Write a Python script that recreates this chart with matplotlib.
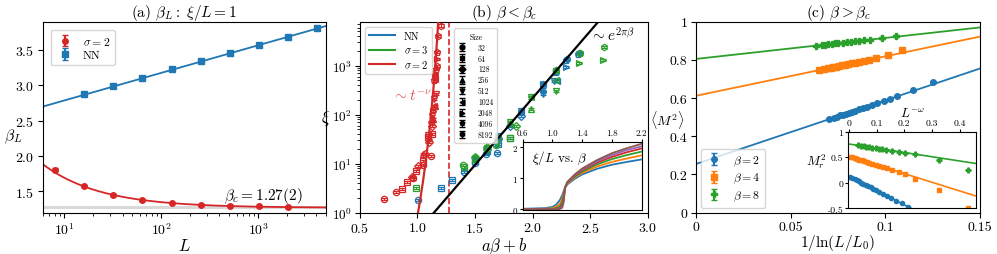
import numpy as np
import matplotlib
matplotlib.use("Agg")
import matplotlib.pyplot as plt
from matplotlib.ticker import FuncFormatter

plt.rcParams["font.family"] = "cmr10"
plt.rcParams["mathtext.fontset"] = "cm"
plt.rcParams["axes.formatter.use_mathtext"] = True
plt.rcParams["axes.unicode_minus"] = False
plt.rcParams["font.size"] = 10
plt.rcParams["xtick.labelsize"] = 10
plt.rcParams["ytick.labelsize"] = 10
plt.rcParams["xtick.major.pad"] = 2.5
plt.rcParams["ytick.major.pad"] = 2.5

BLUE, ORANGE, GREEN, RED = "#1f77b4", "#ff7f0e", "#2ca02c", "#d62728"

# ---- (a) beta_L at xi/L = 1
L_nn = [16, 32, 64, 128, 256, 512, 1024, 2048, 4096]
beta_nn = [2.873, 2.99, 3.108, 3.225, 3.34, 3.458, 3.57, 3.684, 3.805]
err_nn = [0.02, 0.02, 0.02, 0.02, 0.02, 0.02, 0.02, 0.02, 0.02]
L_s2 = [8, 16, 32, 64, 128, 256, 512, 1024, 2048]
beta_s2 = [1.81, 1.58, 1.453, 1.378, 1.34, 1.307, 1.298, 1.29, 1.274]
err_s2 = [0.02, 0.015, 0.012, 0.01, 0.01, 0.01, 0.01, 0.01, 0.01]
nn_fit = [2.396, 0.390]            # intercept, slope per decade
s2_fit = [1.27, 2.28, 0.73]        # beta_c, amplitude, exponent
beta_c_band = [1.25, 1.29]

# ---- (b) xi vs a*beta+b
sizes = [32, 64, 128, 256, 512, 1024, 2048, 4096, 8192]
size_markers = ["o", "s", "D", "^", "v", "<", ">", "p", "h"]
s2_x = [[0.71, 0.81, 0.96, 1.05, 1.117], [0.862, 0.911, 0.99, 1.05, 1.093, 1.13],
        [0.954, 1.007, 1.067, 1.10, 1.123], [1.05, 1.10, 1.137, 1.15],
        [1.093, 1.13, 1.146, 1.158], [1.117, 1.143, 1.152], [1.137, 1.152, 1.167],
        [1.146, 1.158, 1.167], [1.152, 1.167, 1.181, 1.204]]
s2_y = [[1.9, 2.6, 5.0, 9.5, 14.6], [3.1, 4.2, 7.2, 11.5, 35, 40],
        [5.3, 9.1, 15.8, 28, 60], [16, 33, 80, 150],
        [38, 93, 210, 270], [70, 153, 535], [120, 680, 1370],
        [500, 855, 1870], [640, 1000, 4100, 6600]]
nn_x = [[1.007, 1.40, 1.50, 1.595, 1.69], [1.204, 1.30, 1.50, 1.60, 1.70, 1.80],
        [1.60, 1.70, 1.80, 1.90], [1.70, 1.90, 2.09], [1.70, 1.90, 2.087, 2.19],
        [1.90, 2.09, 2.21], [2.09, 2.20, 2.29], [2.20, 2.29, 2.397], [2.09, 2.20, 2.30, 2.40]]
nn_y = [[1.8, 6.9, 10.5, 15.5, 16.5], [3.2, 4.6, 11.5, 18, 25, 33],
        [20, 32, 60, 95], [35, 118, 330], [37, 120, 265, 480],
        [120, 425, 490], [420, 740, 930], [760, 1320, 1750], [425, 770, 1350, 1850]]
s3_x = [[1.398, 1.50, 1.60, 1.68], [0.99, 1.40, 1.50, 1.60, 1.80],
        [1.50, 1.60, 1.70, 1.86], [1.60, 1.80, 1.99], [1.80, 1.99, 2.20],
        [1.99, 2.20], [2.20, 2.405, 2.613], [2.20, 2.41], [2.20, 2.41, 2.62]]
s3_y = [[9.4, 13, 20, 24], [3.2, 8.5, 12.5, 21, 33],
        [14, 22, 34, 60], [22, 68, 130], [70, 225, 300],
        [225, 500], [790, 1130, 1330], [800, 1820], [810, 1850, 2450]]
kt_x0 = 1.143                      # xi ~ exp(2 pi (x - x0))
pow_fit = [1.27, 8.3, 1.63e-5]     # x_c, nu, amplitude

# inset of (b): xi/L vs beta
beta_in = [0.6, 0.9, 1.0, 1.05, 1.1, 1.13, 1.15, 1.17, 1.2, 1.3, 1.4, 1.6, 1.8, 2.0, 2.2]
xiL_in = [
    [0.02, 0.04, 0.08, 0.15, 0.30, 0.45, 0.58, 0.70, 0.80, 0.98, 1.12, 1.30, 1.43, 1.52, 1.60],
    [0.01, 0.02, 0.04, 0.08, 0.18, 0.35, 0.52, 0.70, 0.82, 1.02, 1.17, 1.37, 1.52, 1.63, 1.73],
    [0.005, 0.01, 0.02, 0.04, 0.10, 0.25, 0.45, 0.70, 0.84, 1.05, 1.21, 1.44, 1.61, 1.74, 1.85],
    [0.003, 0.005, 0.01, 0.02, 0.05, 0.15, 0.38, 0.70, 0.86, 1.08, 1.25, 1.50, 1.68, 1.83, 1.95],
    [0.002, 0.003, 0.005, 0.01, 0.03, 0.09, 0.30, 0.70, 0.87, 1.10, 1.28, 1.54, 1.74, 1.90, 2.02],
    [0.001, 0.002, 0.003, 0.005, 0.015, 0.05, 0.22, 0.70, 0.88, 1.12, 1.31, 1.58, 1.80, 1.96, 2.10],
]

# ---- (c) <M^2> vs 1/ln(L/L0)
c_x_b2 = [0.0704, 0.0729, 0.0743, 0.0761, 0.0775, 0.0790, 0.0806, 0.0822, 0.0840, 0.0859,
          0.0880, 0.0901, 0.0928, 0.0958, 0.0993, 0.1025, 0.1063, 0.1148, 0.125]
c_y_b2 = [0.490, 0.498, 0.503, 0.509, 0.513, 0.518, 0.524, 0.529, 0.535, 0.541,
          0.548, 0.555, 0.564, 0.574, 0.586, 0.597, 0.609, 0.640, 0.685]
c_x_b4 = [0.0651, 0.0678, 0.0695, 0.0711, 0.0725, 0.0739, 0.0755, 0.0769, 0.0787, 0.0804,
          0.0822, 0.0840, 0.0861, 0.0887, 0.0914, 0.0949, 0.1012, 0.109]
c_y_b4 = [0.747, 0.752, 0.756, 0.759, 0.762, 0.765, 0.768, 0.771, 0.775, 0.778,
          0.782, 0.786, 0.790, 0.795, 0.801, 0.808, 0.824, 0.850]
c_x_b8 = [0.0634, 0.0667, 0.0683, 0.0699, 0.0717, 0.0734, 0.0752, 0.0775, 0.0796, 0.0819,
          0.0840, 0.0863, 0.0887, 0.0919, 0.098, 0.1055]
c_y_b8 = [0.875, 0.878, 0.880, 0.882, 0.884, 0.886, 0.888, 0.890, 0.893, 0.895,
          0.897, 0.900, 0.903, 0.906, 0.914, 0.925]
c_fit = {2: [0.255, 3.333], 4: [0.612, 2.067], 8: [0.805, 1.10]}

# inset of (c): M_r^2 vs L^-omega
ci_x_b2 = [0.004, 0.012, 0.020, 0.028, 0.036, 0.044, 0.052, 0.060, 0.069, 0.078,
           0.088, 0.098, 0.110, 0.122, 0.136, 0.152, 0.170, 0.190, 0.212]
ci_y_b2 = [0.115, 0.093, 0.070, 0.048, 0.026, 0.003, -0.019, -0.041, -0.067, -0.092,
           -0.120, -0.147, -0.181, -0.214, -0.253, -0.298, -0.348, -0.404, -0.465]
ci_x_b4 = [0.002, 0.011, 0.020, 0.029, 0.037, 0.046, 0.054, 0.064, 0.073, 0.084,
           0.096, 0.108, 0.122, 0.138, 0.156, 0.180, 0.204, 0.240, 0.324, 0.430]
ci_y_b4 = [0.514, 0.498, 0.483, 0.468, 0.454, 0.439, 0.426, 0.409, 0.394, 0.375,
           0.355, 0.334, 0.311, 0.284, 0.253, 0.213, 0.172, 0.08, -0.135, -0.494]
ci_x_b8 = [0.032, 0.044, 0.054, 0.062, 0.072, 0.084, 0.096, 0.108, 0.120, 0.134,
           0.155, 0.180, 0.203, 0.240, 0.324, 0.430]
ci_y_b8 = [0.732, 0.722, 0.714, 0.708, 0.699, 0.689, 0.679, 0.669, 0.659, 0.648,
           0.630, 0.610, 0.591, 0.555, 0.445, 0.256]
ci_fit = {2: [0.126, -2.79], 4: [0.517, -1.69], 8: [0.759, -0.83]}

fig = plt.figure(figsize=(9.97, 2.55), dpi=100)
axa = fig.add_axes([0.0428, 0.162, 0.284, 0.749])
axb = fig.add_axes([0.361, 0.162, 0.2886, 0.749])
axc = fig.add_axes([0.698, 0.162, 0.285, 0.749])
gfmt = FuncFormatter(lambda v, p: f"{v:g}")

# ---------------- (a)
Lg = np.logspace(np.log10(6), np.log10(5000), 200)
axa.axhspan(*beta_c_band, color="0.85", lw=0)
axa.plot(Lg, s2_fit[0] + s2_fit[1] * Lg ** (-s2_fit[2]), color=RED, lw=1.3)
axa.plot(Lg, nn_fit[0] + nn_fit[1] * np.log10(Lg), color=BLUE, lw=1.3)
axa.errorbar(L_s2, beta_s2, yerr=err_s2, fmt="o", color=RED, ms=4, capsize=2, label=r"$\sigma=2$")
axa.errorbar(L_nn, beta_nn, yerr=err_nn, fmt="s", color=BLUE, ms=4, capsize=2, label="NN")
axa.set_xscale("log")
axa.set_xlim(6, 5000)
axa.set_ylim(1.2, 3.9)
axa.set_yticks([1.5, 2.0, 2.5, 3.0, 3.5])
axa.text(450, 1.39, r"$\beta_c=1.27(2)$", fontsize=11)
axa.set_xlabel(r"$L$", fontsize=12, labelpad=0)
axa.set_ylabel(r"$\beta_L$", fontsize=11.5, rotation=0, va="center")
axa.yaxis.set_label_coords(-0.105, 0.40)
axa.set_title(r"(a) $\beta_L:\ \xi/L=1$", fontsize=11, pad=3)
axa.legend(loc="upper left", fontsize=8.5, handlelength=1.5, borderaxespad=0.7,
           labelspacing=0.3)

# ---------------- (b)
def scatter_series(ax, xs, ys, color):
    for m, x, y in zip(size_markers, xs, ys):
        y = np.array(y, dtype=float)
        ax.errorbar(x, y, yerr=0.05 * y, fmt=m, color=color, mfc="none", ms=4.5,
                    mew=0.9, capsize=2, elinewidth=0.7, zorder=3)

scatter_series(axb, s2_x, s2_y, RED)
scatter_series(axb, nn_x, nn_y, BLUE)
scatter_series(axb, s3_x, s3_y, GREEN)
xg = np.linspace(0.5, 3.0, 400)
axb.plot(xg, np.exp(2 * np.pi * (xg - kt_x0)), color="k", lw=1.6, zorder=4)
xr = np.linspace(0.9, 1.25, 300)
axb.plot(xr, pow_fit[2] * (pow_fit[0] - xr) ** (-pow_fit[1]), color=RED, lw=1.6, zorder=4)
axb.axvline(pow_fit[0], color=RED, ls="--", lw=1.2)
axb.set_yscale("log")
axb.set_xlim(0.5, 3.0)
axb.set_ylim(1, 7900)
axb.set_xticks([0.5, 1.0, 1.5, 2.0, 2.5, 3.0])
axb.tick_params(axis="y", labelsize=9.5)
axb.text(0.78, 200, r"$\sim t^{-\nu}$", color=RED, fontsize=11, alpha=0.8)
axb.text(2.5, 3300, r"$\sim e^{2\pi\beta}$", color="k", fontsize=11)
axb.set_xlabel(r"$a\beta+b$", fontsize=12, labelpad=0)
axb.set_ylabel(r"$\xi$", fontsize=12, rotation=0, va="center")
axb.yaxis.set_label_coords(-0.12, 0.5)
axb.set_title(r"(b) $\beta<\beta_c$", fontsize=11, pad=3)
lines = [plt.Line2D([], [], color=c, lw=1.5) for c in (BLUE, GREEN, RED)]
leg1 = axb.legend(lines, ["NN", r"$\sigma=3$", r"$\sigma=2$"], loc="upper left",
                  fontsize=7.5, handlelength=2.5, borderaxespad=0.5, labelspacing=0.25)
axb.add_artist(leg1)
size_handles = [axb.errorbar([np.nan], [np.nan], yerr=[1], fmt=m, color="k", ms=3.5,
                             capsize=2, elinewidth=0.8) for m in size_markers]
axb.legend(size_handles, [str(s) for s in sizes], title="Size", loc="upper left",
           bbox_to_anchor=(0.315, 0.985), fontsize=5.5, title_fontsize=5.5,
           handlelength=1.0, labelspacing=0.33, handletextpad=1.6, borderpad=0.5)

ins_b = axb.inset_axes([0.566, 0.014, 0.413, 0.358])
for curve in xiL_in:
    ins_b.plot(beta_in, curve, lw=1.3)
ins_b.set_xlim(0.6, 2.2)
ins_b.set_ylim(-0.02, 2.17)
ins_b.xaxis.tick_top()
ins_b.set_xticks([0.6, 1.0, 1.4, 1.8, 2.2])
ins_b.xaxis.set_major_formatter(FuncFormatter(lambda v, p: f"{v:.1f}"))
ins_b.set_yticks([0, 1, 2])
ins_b.tick_params(labelsize=6.5, length=2, pad=1.5)
ins_b.text(0.08, 0.72, r"$\xi/L$ vs. $\beta$", transform=ins_b.transAxes, fontsize=9.5)

# ---------------- (c)
xc = np.linspace(0, 0.15, 50)
for beta, col in ((2, BLUE), (4, ORANGE), (8, GREEN)):
    a0, a1 = c_fit[beta]
    axc.plot(xc, a0 + a1 * xc, color=col, lw=1.3)
axc.errorbar(c_x_b2, c_y_b2, yerr=0.004, fmt="o", color=BLUE, ms=4, capsize=2, label=r"$\beta=$2")
axc.errorbar(c_x_b4, c_y_b4, yerr=0.004, fmt="s", color=ORANGE, ms=4, capsize=2, label=r"$\beta=$4")
axc.errorbar(c_x_b8, c_y_b8, yerr=0.004, fmt="P", color=GREEN, ms=4.5, capsize=2, label=r"$\beta=$8")
axc.set_xlim(0, 0.15)
axc.set_ylim(0, 1)
axc.set_xticks([0, 0.05, 0.1, 0.15])
axc.set_yticks([0, 0.2, 0.4, 0.6, 0.8, 1])
axc.xaxis.set_major_formatter(gfmt)
axc.yaxis.set_major_formatter(gfmt)
axc.set_xlabel(r"$1/\ln(L/L_0)$", fontsize=11, labelpad=-0.5)
axc.set_ylabel(r"$\langle M^2\rangle$", fontsize=10, rotation=0, va="center")
axc.yaxis.set_label_coords(-0.1, 0.49)
axc.set_title(r"(c) $\beta>\beta_c$", fontsize=11, pad=3)
axc.legend(loc="lower left", fontsize=8.5, handlelength=1.5, borderaxespad=0.4,
           labelspacing=0.3)

ins_c = axc.inset_axes([0.536, 0.023, 0.45, 0.401])
xi = np.linspace(-0.003, 0.46, 50)
for beta, col in ((2, BLUE), (4, ORANGE), (8, GREEN)):
    a0, a1 = ci_fit[beta]
    ins_c.plot(xi, a0 + a1 * xi, color=col, lw=1.2)
ins_c.plot(ci_x_b2, ci_y_b2, "o", color=BLUE, ms=3)
ins_c.plot(ci_x_b4, ci_y_b4, "s", color=ORANGE, ms=3)
ins_c.plot(ci_x_b8, ci_y_b8, "P", color=GREEN, ms=3.5)
ins_c.set_xlim(-0.003, 0.46)
ins_c.set_ylim(-0.5, 1)
ins_c.xaxis.tick_top()
ins_c.xaxis.set_label_position("top")
ins_c.set_xticks([0, 0.1, 0.2, 0.3, 0.4])
ins_c.set_yticks([-0.5, 0, 0.5, 1])
ins_c.xaxis.set_major_formatter(gfmt)
ins_c.yaxis.set_major_formatter(gfmt)
ins_c.tick_params(labelsize=7, length=2, pad=1.5)
ins_c.set_xlabel(r"$L^{-\omega}$", fontsize=9.5, labelpad=1)
ins_c.set_ylabel(r"$M_r^2$", fontsize=9.5, rotation=0, labelpad=8)

fig.savefig("out.png", dpi=100)
